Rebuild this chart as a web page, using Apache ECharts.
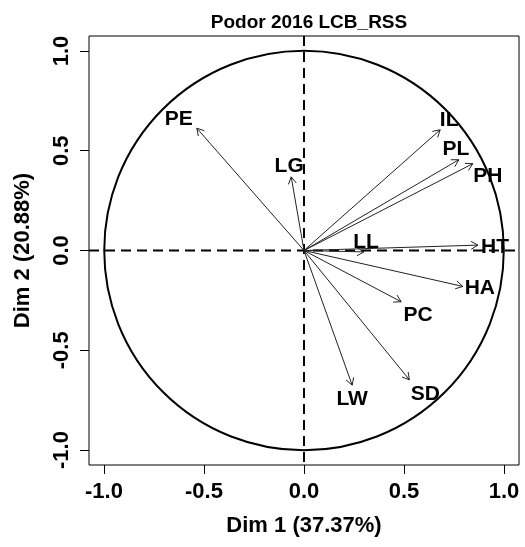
<!DOCTYPE html>
<html>
<head>
<meta charset="utf-8">
<script src="https://cdn.jsdelivr.net/npm/echarts@6/dist/echarts.min.js"></script>
<style>html,body{margin:0;padding:0;background:#fff}#c{width:525px;height:547px}</style>
</head>
<body>
<div id="c"></div>
<script>
// ---- data ----
const varNames = ['PE','LG','IL','PL','PH','HT','LL','HA','PC','SD','LW'];
const dim1 = [-0.536,-0.064,0.681,0.774,0.844,0.870,0.300,0.794,0.486,0.527,0.241];
const dim2 = [0.613,0.369,0.605,0.455,0.435,0.027,-0.007,-0.180,-0.257,-0.648,-0.675];
const tickValues = [-1.0,-0.5,0.0,0.5,1.0];
const titleText = 'Podor 2016 LCB_RSS';
const xName = 'Dim 1 (37.37%)';
const yName = 'Dim 2 (20.88%)';

// ---- layout (pixel offsets of labels from arrow tips) ----
const labelOffsets = {
  PE:[-18,-9], LG:[-2,-11], IL:[9,-10], PL:[-3,-11], PH:[15,13], HT:[17,2],
  LL:[2,-10], HA:[17,2], PC:[17,13], SD:[16,14], LW:[0,14]
};
const FONT = "'Liberation Sans', Arial, sans-serif";

const chart = echarts.init(document.getElementById('c'), null, {renderer:'canvas'});
const pts = dim1.map((x,i)=>[x, dim2[i], i]);

function axisCommon(rot){
  return {
    type:'value', min:-1.075, max:1.075,
    splitLine:{show:false},
    axisLine:{show:false, onZero:false},
    axisTick:{show:true, inside:false, length:9, customValues:tickValues, lineStyle:{color:'#000', width:1}},
    axisLabel:{customValues:tickValues, formatter:v=>v.toFixed(1), color:'#000',
      fontFamily:FONT, fontWeight:'bold', fontSize:22, rotate:rot, margin:16},
    nameLocation:'middle',
    nameTextStyle:{color:'#000', fontFamily:FONT, fontWeight:'bold', fontSize:22}
  };
}

const option = {
  animation:false,
  title:{text:titleText, left:304, top:8, textAlign:'center',
    textStyle:{color:'#000', fontFamily:FONT, fontWeight:'bold', fontSize:19}},
  grid:{left:89, right:6, top:36, bottom:82, show:true, borderColor:'#000', borderWidth:1, backgroundColor:'transparent'},
  xAxis:Object.assign(axisCommon(0), {name:xName, nameGap:50}),
  yAxis:Object.assign(axisCommon(90), {name:yName, nameGap:55}),
  series:[
    { // dashed reference lines
      type:'custom', silent:true, data:[[0,0]],
      renderItem:(params, api)=>{
        const cs = params.coordSys;
        const o = api.coord([0,0]);
        const st = {stroke:'#000', lineWidth:2, lineDash:[10,6]};
        return {type:'group', children:[
          {type:'line', shape:{x1:cs.x, y1:o[1], x2:cs.x+cs.width, y2:o[1]}, style:st},
          {type:'line', shape:{x1:o[0], y1:cs.y, x2:o[0], y2:cs.y+cs.height}, style:st}
        ]};
      }
    },
    { // unit circle
      type:'custom', silent:true, data:[[0,0]],
      renderItem:(params, api)=>{
        const o = api.coord([0,0]);
        const r = api.size([1,1]);
        return {type:'group', children:[{type:'circle', shape:{cx:o[0], cy:o[1], r:(r[0]+r[1])/2},
          style:{fill:'none', stroke:'#000', lineWidth:2}}]};
      }
    },
    { // arrows + labels
      type:'custom', silent:true, data:pts, clip:false,
      renderItem:(params, api)=>{
        const o = api.coord([0,0]);
        const t = api.coord([api.value(0), api.value(1)]);
        const name = varNames[api.value(2)];
        const ang = Math.atan2(t[1]-o[1], t[0]-o[0]);
        const L = 8, a = Math.PI/6;
        const b1 = [t[0]-L*Math.cos(ang-a), t[1]-L*Math.sin(ang-a)];
        const b2 = [t[0]-L*Math.cos(ang+a), t[1]-L*Math.sin(ang+a)];
        const st = {stroke:'#222', lineWidth:1, fill:'none'};
        const off = labelOffsets[name] || [0,0];
        return {type:'group', children:[
          {type:'line', shape:{x1:o[0], y1:o[1], x2:t[0], y2:t[1]}, style:st},
          {type:'polyline', shape:{points:[b1, t, b2]}, style:st},
          {type:'text', x:t[0]+off[0], y:t[1]+off[1], style:{text:name, fill:'#000',
            font:"bold 21px 'Liberation Sans', Arial, sans-serif", align:'center', verticalAlign:'middle'}}
        ]};
      }
    }
  ]
};
chart.setOption(option);
</script>
</body>
</html>
